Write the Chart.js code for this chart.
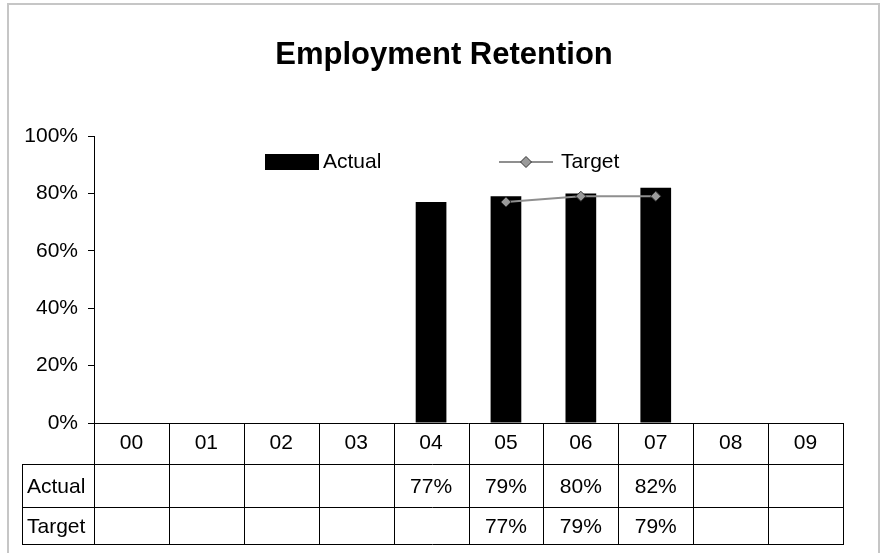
<!DOCTYPE html>
<html>
<head>
<meta charset="utf-8">
<script src="https://cdn.jsdelivr.net/npm/chart.js@4"></script>
<style>
  html, body { margin: 0; padding: 0; background: #ffffff; }
  #wrap { width: 881px; height: 553px; position: relative; }
</style>
</head>
<body>
<div id="wrap"><canvas id="c" width="881" height="553"></canvas></div>
<script>
const chartTitle = "Employment Retention";
const categories = ["00", "01", "02", "03", "04", "05", "06", "07", "08", "09"];
const actualLabel = "Actual";
const targetLabel = "Target";
const actualValues = [null, null, null, null, 0.77, 0.79, 0.80, 0.82, null, null];
const targetValues = [null, null, null, null, null, 0.77, 0.79, 0.79, null, null];
const yTicks = [0, 0.2, 0.4, 0.6, 0.8, 1.0];

const FONT = "'Liberation Sans', Arial, sans-serif";

function pct(v) { return Math.round(v * 100) + "%"; }

const decor = {
  id: "decor",
  afterDraw(chart) {
    const ctx = chart.ctx;
    const x = chart.scales.x;
    const area = chart.chartArea;
    ctx.save();
    // outer chart border
    ctx.strokeStyle = "#c6c6c6";
    ctx.lineWidth = 2;
    ctx.strokeRect(8, 4, 871, 570);

    // title
    ctx.fillStyle = "#000";
    ctx.font = "bold 31px " + FONT;
    ctx.textAlign = "center";
    ctx.textBaseline = "alphabetic";
    ctx.fillText(chartTitle, 444, 64);

    // legend
    const dsBar = chart.data.datasets[0];
    const dsLine = chart.data.datasets[1];
    ctx.fillStyle = dsBar.backgroundColor;
    ctx.fillRect(265, 154, 54, 16);
    ctx.fillStyle = "#000";
    ctx.font = "21px " + FONT;
    ctx.textAlign = "left";
    ctx.fillText(dsBar.label, 323, 168);
    ctx.strokeStyle = dsLine.borderColor;
    ctx.lineWidth = 2;
    ctx.beginPath();
    ctx.moveTo(499, 162); ctx.lineTo(553, 162);
    ctx.stroke();
    ctx.beginPath();
    const cx = 526, cy = 162, r = 5.5;
    ctx.moveTo(cx, cy - r); ctx.lineTo(cx + r, cy); ctx.lineTo(cx, cy + r); ctx.lineTo(cx - r, cy); ctx.closePath();
    ctx.fillStyle = dsLine.pointBackgroundColor;
    ctx.fill();
    ctx.strokeStyle = dsLine.pointBorderColor;
    ctx.lineWidth = 1;
    ctx.stroke();
    ctx.fillStyle = "#000";
    ctx.fillText(dsLine.label, 561, 168);

    // data table
    const n = categories.length;
    const step = (area.right - area.left) / n;
    const top = area.bottom;
    const r1 = top + 41, r2 = top + 84, r3 = top + 121;
    const labelLeft = 22;
    ctx.strokeStyle = "#000";
    ctx.lineWidth = 1;
    ctx.beginPath();
    ctx.moveTo(area.left, top + 0.5); ctx.lineTo(area.right, top + 0.5);
    [r1, r2, r3].forEach(y => { ctx.moveTo(labelLeft, y + 0.5); ctx.lineTo(area.right, y + 0.5); });
    ctx.moveTo(labelLeft + 0.5, r1); ctx.lineTo(labelLeft + 0.5, r3);
    for (let i = 0; i <= n; i++) {
      const px = Math.round(i < n ? x.getPixelForValue(i) - step / 2 : x.getPixelForValue(n - 1) + step / 2) + 0.5;
      ctx.moveTo(px, top); ctx.lineTo(px, r3 + 1);
    }
    ctx.stroke();

    ctx.font = "21px " + FONT;
    ctx.fillStyle = "#000";
    ctx.textAlign = "left";
    ctx.fillText(actualLabel, 27, 493);
    ctx.fillText(targetLabel, 27, 533);
    ctx.textAlign = "center";
    for (let i = 0; i < n; i++) {
      const px = x.getPixelForValue(i);
      ctx.fillText(categories[i], px, 449);
      if (actualValues[i] != null) ctx.fillText(pct(actualValues[i]), px, 493);
      if (targetValues[i] != null) ctx.fillText(pct(targetValues[i]), px, 533);
    }
    ctx.restore();
  }
};

new Chart(document.getElementById("c"), {
  type: "bar",
  data: {
    labels: categories,
    datasets: [
      {
        type: "bar",
        label: actualLabel,
        data: actualValues,
        backgroundColor: "#000000",
        borderWidth: 0,
        categoryPercentage: 1,
        barPercentage: 0.41,
        order: 2
      },
      {
        type: "line",
        label: targetLabel,
        data: targetValues,
        borderColor: "#8f8f8f",
        borderWidth: 2,
        pointStyle: "rectRot",
        pointRadius: 5,
        pointBackgroundColor: "#9a9a9a",
        pointBorderColor: "#333333",
        pointBorderWidth: 1,
        spanGaps: false,
        order: 1
      }
    ]
  },
  options: {
    responsive: false,
    animation: false,
    events: [],
    layout: { padding: { left: 0, right: 38, top: 136, bottom: 130 } },
    plugins: { legend: { display: false }, title: { display: false }, tooltip: { enabled: false } },
    scales: {
      x: { display: false, offset: true },
      y: {
        min: 0, max: 1,
        afterFit(scale) { scale.width = 94; },
        afterBuildTicks(scale) { scale.ticks = yTicks.map(v => ({ value: v })); },
        ticks: {
          color: "#000",
          font: { family: FONT, size: 21 },
          padding: 10,
          callback: v => pct(v)
        },
        grid: { display: true, drawOnChartArea: false, drawTicks: true, tickLength: 6, color: "#000", lineWidth: 1 },
        border: { display: true, color: "#000", width: 1 }
      }
    }
  },
  plugins: [decor]
});
</script>
</body>
</html>
